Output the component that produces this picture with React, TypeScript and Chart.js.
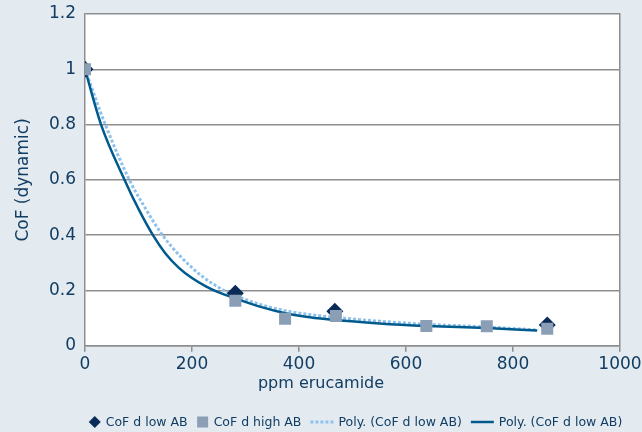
import React, { useEffect, useRef } from "react";
import { Chart, registerables } from "chart.js";

Chart.register(...registerables);

// ---- data ----
const lowAbX = [0, 281, 467, 864];
const lowAbY = [1.0, 0.19, 0.125, 0.075];

const highAbX = [0, 281, 374, 469, 638, 751, 864];
const highAbY = [1.0, 0.163, 0.098, 0.108, 0.072, 0.071, 0.062];

// trend line (dotted)
const polyDotX = [0, 38, 83, 115, 145, 180, 220, 260, 283, 330, 374, 420, 467, 550, 638, 751, 847];
const polyDotY = [1.0, 0.8, 0.6, 0.49, 0.4, 0.32, 0.25, 0.2, 0.18, 0.148, 0.127, 0.113, 0.103, 0.089, 0.078, 0.068, 0.057];

// trend line (solid)
const polySolidX = [0, 30, 74, 100, 127, 150, 175, 200, 225, 250, 283, 330, 374, 420, 467, 550, 638, 751, 845];
const polySolidY = [1.0, 0.8, 0.6, 0.495, 0.4, 0.335, 0.283, 0.245, 0.216, 0.193, 0.17, 0.14, 0.118, 0.103, 0.093, 0.081, 0.072, 0.064, 0.055];

const seriesLabels = ["CoF d low AB", "CoF d high AB", "Poly. (CoF d low AB)", "Poly. (CoF d low AB)"];
const xTitle = "ppm erucamide";
const yTitle = "CoF (dynamic)";

const FONT = "'DejaVu Sans', sans-serif";
const TEXT = "#123d63";
const GRID = "#8e8e8e";
const BG = "#e3ebf1";

const zip = (xs: number[], ys: number[]) => xs.map((x, i) => ({ x, y: ys[i] }));
const fmt = (v: any) => String(Number(Number(v).toFixed(1)));

const plotBgPlugin = {
  id: "plotBg",
  beforeDraw(chart: any) {
    const { ctx, chartArea } = chart;
    ctx.save();
    ctx.fillStyle = "#ffffff";
    ctx.fillRect(chartArea.left, chartArea.top, chartArea.right - chartArea.left, chartArea.bottom - chartArea.top);
    ctx.restore();
  },
};

const customLegendPlugin = {
  id: "customLegend",
  afterDraw(chart: any) {
    const { ctx } = chart;
    const ds = chart.data.datasets;
    const y = 422;
    const fontPx = 12.5;
    ctx.save();
    ctx.font = `${fontPx}px ${FONT}`;
    const items = [
      { kind: "diamond", ds: ds[0], sw: 12 },
      { kind: "square", ds: ds[1], sw: 12 },
      { kind: "dotted", ds: ds[2], sw: 23 },
      { kind: "solid", ds: ds[3], sw: 23 },
    ];
    const gapSym = 5;
    const gapItem = 9;
    let total = 0;
    items.forEach((it, i) => {
      total += it.sw + gapSym + ctx.measureText(it.ds.label).width;
      if (i < items.length - 1) total += gapItem;
    });
    let x = 355.5 - total / 2;
    items.forEach((it) => {
      const cx = x + it.sw / 2;
      if (it.kind === "diamond") {
        ctx.fillStyle = it.ds.backgroundColor;
        ctx.beginPath();
        ctx.moveTo(cx, y - 6);
        ctx.lineTo(cx + 6, y);
        ctx.lineTo(cx, y + 6);
        ctx.lineTo(cx - 6, y);
        ctx.closePath();
        ctx.fill();
      } else if (it.kind === "square") {
        ctx.fillStyle = it.ds.backgroundColor;
        ctx.fillRect(cx - 5.5, y - 5.5, 11, 11);
      } else {
        ctx.strokeStyle = it.ds.borderColor;
        ctx.lineWidth = it.ds.borderWidth;
        ctx.setLineDash(it.ds.borderDash || []);
        ctx.beginPath();
        ctx.moveTo(x, y);
        ctx.lineTo(x + it.sw, y);
        ctx.stroke();
        ctx.setLineDash([]);
      }
      x += it.sw + gapSym;
      ctx.fillStyle = TEXT;
      ctx.textBaseline = "middle";
      ctx.textAlign = "left";
      ctx.fillText(it.ds.label, x, y + 0.5);
      x += ctx.measureText(it.ds.label).width + gapItem;
    });
    ctx.restore();
  },
};

export default function App() {
  const ref = useRef<HTMLCanvasElement | null>(null);

  useEffect(() => {
    document.body.style.margin = "0";
    document.body.style.background = BG;
    if (!ref.current) return;
    const chart = new Chart(ref.current, {
      type: "scatter",
      data: {
        datasets: [
          {
            label: seriesLabels[0],
            data: zip(lowAbX, lowAbY),
            pointStyle: "rectRot",
            pointRadius: 8.5,
            pointHoverRadius: 8.5,
            backgroundColor: "#0a2b58",
            borderColor: "#0a2b58",
            borderWidth: 0,
            showLine: false,
            order: 1,
          },
          {
            label: seriesLabels[1],
            data: zip(highAbX, highAbY),
            pointStyle: "rect",
            pointRadius: 8.5,
            pointHoverRadius: 8.5,
            backgroundColor: "#8a9eb6",
            borderColor: "#8a9eb6",
            borderWidth: 0,
            showLine: false,
            order: 0,
          },
          {
            label: seriesLabels[2],
            data: zip(polyDotX, polyDotY),
            showLine: true,
            pointRadius: 0,
            borderColor: "#8ec2ec",
            backgroundColor: "#8ec2ec",
            borderWidth: 3,
            borderDash: [3, 2],
            cubicInterpolationMode: "monotone",
            order: 3,
          },
          {
            label: seriesLabels[3],
            data: zip(polySolidX, polySolidY),
            showLine: true,
            pointRadius: 0,
            borderColor: "#005a8e",
            backgroundColor: "#005a8e",
            borderWidth: 2.5,
            cubicInterpolationMode: "monotone",
            order: 2,
          },
        ] as any,
      },
      options: {
        animation: false,
        responsive: false,
        maintainAspectRatio: false,
        layout: { padding: { top: 14, left: 0, right: 0, bottom: 0 } },
        plugins: {
          legend: { display: false },
          tooltip: { enabled: false },
          title: {
            display: true,
            position: "bottom",
            text: xTitle,
            color: TEXT,
            font: { family: FONT, size: 16, weight: "normal" },
            padding: { top: 0, bottom: 39 },
          },
        },
        scales: {
          x: {
            type: "linear",
            min: 0,
            max: 1000,
            afterFit: (s: any) => {
              s.height = 28;
              s.paddingLeft = 0;
              s.paddingRight = 0;
            },
            ticks: {
              stepSize: 200,
              color: TEXT,
              font: { family: FONT, size: 17 },
              padding: 3,
              maxRotation: 0,
              callback: (v: any) => String(v),
            },
            grid: {
              drawOnChartArea: false,
              drawTicks: true,
              tickLength: 6,
              color: GRID,
              lineWidth: 1.5,
            },
            border: { display: true, color: GRID, width: 1.5 },
          },
          y: {
            type: "linear",
            min: 0,
            max: 1.2,
            afterFit: (s: any) => {
              s.width = 85;
              s.paddingTop = 0;
              s.paddingBottom = 0;
            },
            ticks: {
              stepSize: 0.2,
              color: TEXT,
              font: { family: FONT, size: 17 },
              padding: 9,
              callback: fmt,
            },
            grid: { color: GRID, lineWidth: 1.5, drawTicks: false },
            border: { display: true, color: GRID, width: 1.5 },
            title: {
              display: true,
              text: yTitle,
              color: TEXT,
              font: { family: FONT, size: 17, weight: "normal" },
              padding: { top: 13, bottom: 0 },
            },
          },
          y2: {
            type: "linear",
            position: "right",
            min: 0,
            max: 1.2,
            afterFit: (s: any) => {
              s.width = 22;
              s.paddingTop = 0;
              s.paddingBottom = 0;
            },
            ticks: { display: false },
            grid: { display: false, drawTicks: false },
            border: { display: true, color: GRID, width: 1.5 },
          },
        },
      } as any,
      plugins: [plotBgPlugin, customLegendPlugin],
    });
    return () => chart.destroy();
  }, []);

  return (
    <div style={{ width: 642, height: 432, background: BG }}>
      <canvas ref={ref} width={642} height={432} style={{ display: "block", width: 642, height: 432 }} />
    </div>
  );
}
